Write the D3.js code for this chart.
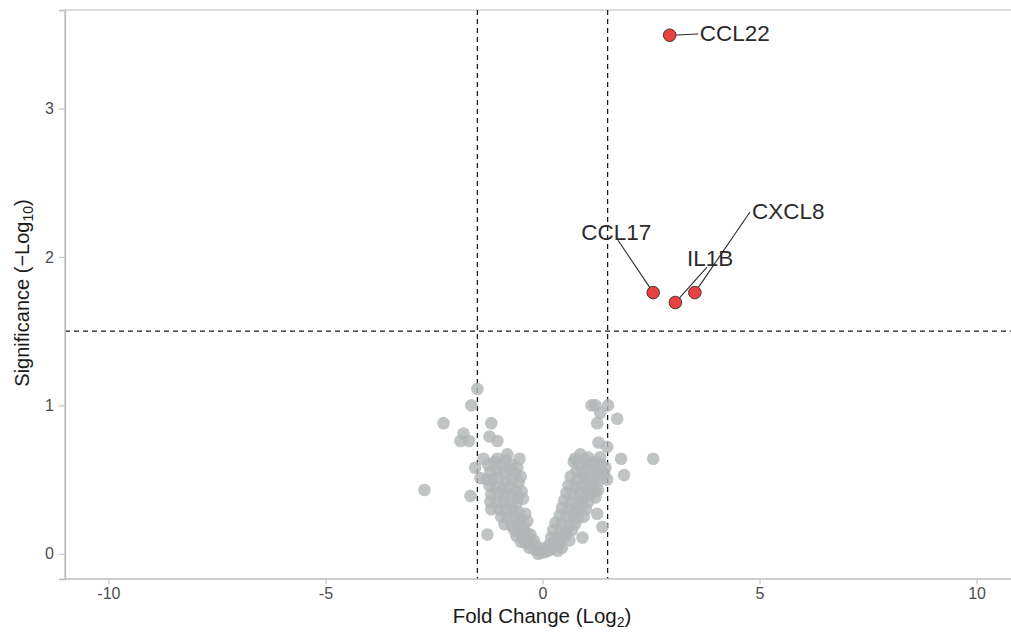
<!DOCTYPE html>
<html>
<head>
<meta charset="utf-8">
<script src="https://cdn.jsdelivr.net/npm/d3@7"></script>
<style>
    body { margin: 0; background: #fff; }
    svg { display: block; font-family: "Liberation Sans", Arial, sans-serif; }
</style>
</head>
<body>
<svg width="1011" height="636"></svg>
<script>
// labelled genes (red)
var genes = ["CCL22", "CCL17", "IL1B", "CXCL8"];
var geneFC = [2.93, 2.55, 3.06, 3.51];
var geneSig = [3.494, 1.76, 1.693, 1.76];

// where each label sits, and where its leader line starts (data units)
var labelAt = [[4.43, 3.508], [1.70, 2.167], [3.86, 1.992], [5.66, 2.313]];
var leaderFrom = [[3.59, 3.502], [1.74, 2.113], [3.79, 1.932], [4.78, 2.303]];

// other genes (grey) as [log2 fold change, -log10 p]
var bgPoints = [
    // scattered left
    [-1.50, 1.11], [-1.64, 1.00], [-2.28, 0.88], [-1.18, 0.88], [-1.82, 0.81],
    [-1.89, 0.76], [-1.69, 0.76], [-1.22, 0.79], [-1.04, 0.76], [-1.36, 0.64],
    [-1.04, 0.64], [-0.81, 0.67], [-0.53, 0.64], [-1.55, 0.58], [-2.72, 0.43],
    [-1.66, 0.39], [-1.27, 0.13], [-1.43, 0.51],
    // scattered right
    [1.22, 1.00], [1.13, 1.00], [1.51, 1.00], [1.33, 0.95], [1.72, 0.91],
    [1.26, 0.88], [1.29, 0.75], [1.49, 0.72], [1.81, 0.64], [2.55, 0.64],
    [1.88, 0.53], [0.92, 0.11], [0.45, 0.04], [1.22, 0.38], [1.26, 0.27],
    [1.38, 0.18], [1.49, 0.50], [0.75, 0.64], [0.87, 0.67], [1.05, 0.65],
    [1.33, 0.65],
    // left arm
    [-1.25, 0.60], [-1.10, 0.62], [-0.95, 0.60], [-0.85, 0.63], [-0.70, 0.60],
    [-0.58, 0.58], [-1.20, 0.55], [-1.05, 0.56], [-0.90, 0.55], [-0.75, 0.57],
    [-0.62, 0.54], [-0.50, 0.52], [-1.28, 0.50], [-1.15, 0.50], [-1.00, 0.51],
    [-0.85, 0.49], [-0.70, 0.50], [-0.55, 0.48], [-1.22, 0.46], [-1.08, 0.45],
    [-0.92, 0.44], [-0.78, 0.45], [-0.62, 0.43], [-0.48, 0.42], [-1.18, 0.40],
    [-1.02, 0.41], [-0.88, 0.39], [-0.72, 0.40], [-0.58, 0.38], [-0.45, 0.37],
    [-1.20, 0.35], [-1.05, 0.34], [-0.90, 0.35], [-0.75, 0.33], [-0.60, 0.34],
    [-1.18, 0.30], [-1.00, 0.30], [-0.85, 0.29], [-0.70, 0.30], [-0.55, 0.28],
    [-0.40, 0.27], [-0.95, 0.25], [-0.80, 0.24], [-0.65, 0.25], [-0.50, 0.23],
    [-0.35, 0.22], [-0.88, 0.20], [-0.72, 0.19], [-0.58, 0.20], [-0.43, 0.18],
    [-0.65, 0.16], [-0.52, 0.15], [-0.38, 0.14], [-0.28, 0.13], [-0.60, 0.12],
    [-0.45, 0.10], [-0.32, 0.11], [-0.20, 0.09], [-0.50, 0.08], [-0.38, 0.07],
    [-0.25, 0.06], [-0.12, 0.05], [-0.30, 0.04], [-0.18, 0.03], [-0.08, 0.02],
    [-0.02, 0.01], [-0.10, 0.00],
    // right arm
    [0.72, 0.62], [0.85, 0.60], [0.98, 0.63], [1.10, 0.61], [1.22, 0.62],
    [1.35, 0.60], [1.45, 0.58], [0.78, 0.56], [0.92, 0.55], [1.05, 0.57],
    [1.18, 0.56], [1.30, 0.55], [1.42, 0.54], [0.65, 0.52], [0.80, 0.50],
    [0.95, 0.51], [1.08, 0.50], [1.20, 0.49], [1.32, 0.50], [0.60, 0.46],
    [0.75, 0.45], [0.90, 0.46], [1.02, 0.44], [1.15, 0.45], [1.28, 0.43],
    [0.55, 0.41], [0.70, 0.40], [0.85, 0.41], [0.98, 0.39], [1.10, 0.40],
    [1.22, 0.42], [0.50, 0.36], [0.65, 0.35], [0.80, 0.34], [0.92, 0.36],
    [1.05, 0.35], [0.45, 0.31], [0.60, 0.30], [0.75, 0.29], [0.88, 0.31],
    [1.00, 0.30], [0.40, 0.26], [0.55, 0.25], [0.70, 0.26], [0.82, 0.24],
    [0.95, 0.25], [0.30, 0.21], [0.45, 0.20], [0.60, 0.19], [0.75, 0.20],
    [0.25, 0.16], [0.40, 0.15], [0.55, 0.14], [0.68, 0.16], [0.20, 0.11],
    [0.35, 0.10], [0.50, 0.12], [0.62, 0.09], [0.05, 0.01], [0.12, 0.02],
    [0.20, 0.03], [0.30, 0.05], [0.15, 0.06], [0.40, 0.07], [0.25, 0.08],
    [0.08, 0.04], [0.35, 0.02]
];

var xTicks = [-10, -5, 0, 5, 10];
var yTicks = [0, 1, 2, 3];
var fcCut = 1.5;
var sigCut = 1.5;

var x = d3.scaleLinear().domain([-11, 11]).range([65, 1020]);
var y = d3.scaleLinear().domain([-0.17, 3.664]).range([579, 10]);

function drawFrame() {
    var svg = d3.select("svg");
    // panel border top, axis lines left + bottom
    svg.append("line")
        .attr("x1", 65).attr("x2", 1011)
        .attr("y1", 10).attr("y2", 10)
        .style("stroke", "#d2d2d2").style("stroke-width", 1.6);
    svg.append("line")
        .attr("x1", 65).attr("x2", 65)
        .attr("y1", 10).attr("y2", 579)
        .style("stroke", "#c4c4c4").style("stroke-width", 1.3);
}

function drawAxes() {
    var svg = d3.select("svg");
    var xAxis = svg.append("g")
        .attr("transform", "translate(0, 579)")
        .call(d3.axisBottom(x).tickValues(xTicks).tickSize(5).tickPadding(4)
            .tickFormat(function(d) { return d < 0 ? "-" + Math.abs(d) : d; }));
    var yAxis = svg.append("g")
        .attr("transform", "translate(65, 0)")
        .call(d3.axisLeft(y).tickValues(yTicks).tickSize(6).tickPadding(5)
            .tickFormat(d3.format("d")));
    [xAxis, yAxis].forEach(function(g) {
        g.select(".domain").style("stroke", "#bdbdbd").style("stroke-width", 1.3);
        g.selectAll(".tick line").style("stroke", "#c4c4c4").style("stroke-width", 1.2);
        g.selectAll(".tick text")
            .style("fill", "#4d4d4d")
            .style("font-size", "16px")
            .style("font-family", "'Liberation Sans', Arial, sans-serif");
    });
    xAxis.select(".domain").attr("d", "M65,0H1011");

    var xt = svg.append("text")
        .attr("x", 542)
        .attr("y", 623)
        .attr("text-anchor", "middle")
        .style("font-size", "20.5px")
        .style("fill", "#1a1a1a");
    xt.append("tspan").text("Fold Change (Log");
    xt.append("tspan").attr("dy", 4).style("font-size", "14px").text("2");
    xt.append("tspan").attr("dy", -4).text(")");

    var yt = svg.append("text")
        .attr("transform", "translate(29, 293) rotate(-90)")
        .attr("text-anchor", "middle")
        .style("font-size", "20px")
        .style("fill", "#1a1a1a");
    yt.append("tspan").text("Significance (\u2212Log");
    yt.append("tspan").attr("dy", 4).style("font-size", "14px").text("10");
    yt.append("tspan").attr("dy", -4).text(")");
}

function drawCutoffs() {
    var svg = d3.select("svg");
    [-fcCut, fcCut].forEach(function(v) {
        svg.append("line")
            .attr("x1", x(v)).attr("x2", x(v))
            .attr("y1", 10).attr("y2", 579)
            .style("stroke", "#1a1a1a")
            .style("stroke-width", 1.3)
            .style("stroke-dasharray", "5,4");
    });
    svg.append("line")
        .attr("x1", 65).attr("x2", 1011)
        .attr("y1", y(sigCut)).attr("y2", y(sigCut))
        .style("stroke", "#1a1a1a")
        .style("stroke-width", 1.3)
        .style("stroke-dasharray", "5,4");
}

function drawPoints() {
    var svg = d3.select("svg");
    svg.append("g")
        .selectAll("circle").data(bgPoints).enter()
        .append("circle")
        .attr("cx", function(d) { return x(d[0]); })
        .attr("cy", function(d) { return y(d[1]); })
        .attr("r", 6.3)
        .attr("fill", "#b1b5b5")
        .attr("fill-opacity", 0.8);

    var red = genes.map(function(g, i) {
        return { gene: g, fc: geneFC[i], sig: geneSig[i], lab: labelAt[i], from: leaderFrom[i] };
    });

    // leader lines
    svg.append("g")
        .selectAll("line").data(red).enter()
        .append("line")
        .attr("x1", function(d) { return x(d.from[0]); })
        .attr("y1", function(d) { return y(d.from[1]); })
        .attr("x2", function(d) {
            var dx = x(d.from[0]) - x(d.fc), dy = y(d.from[1]) - y(d.sig);
            var len = Math.sqrt(dx * dx + dy * dy);
            return x(d.fc) + dx / len * 6.3;
        })
        .attr("y2", function(d) {
            var dx = x(d.from[0]) - x(d.fc), dy = y(d.from[1]) - y(d.sig);
            var len = Math.sqrt(dx * dx + dy * dy);
            return y(d.sig) + dy / len * 6.3;
        })
        .style("stroke", "#2b2b2b")
        .style("stroke-width", 1.1);

    svg.append("g")
        .selectAll("circle").data(red).enter()
        .append("circle")
        .attr("cx", function(d) { return x(d.fc); })
        .attr("cy", function(d) { return y(d.sig); })
        .attr("r", 6.3)
        .attr("fill", "#e8413f")
        .style("stroke", "#3a2a2a")
        .style("stroke-width", 0.9);

    svg.append("g")
        .selectAll("text").data(red).enter()
        .append("text")
        .attr("x", function(d) { return x(d.lab[0]); })
        .attr("y", function(d) { return y(d.lab[1]); })
        .attr("text-anchor", "middle")
        .attr("dy", "0.36em")
        .style("font-size", "22.5px")
        .style("fill", "#2b2b2b")
        .text(function(d) { return d.gene; });
}

drawFrame();
drawCutoffs();
drawPoints();
drawAxes();
</script>
</body>
</html>
